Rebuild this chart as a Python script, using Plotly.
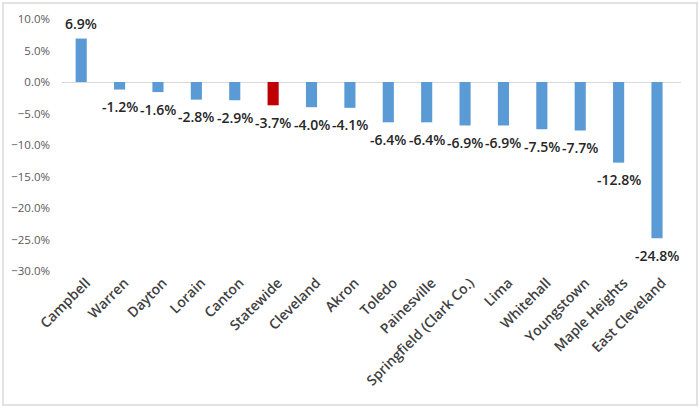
import plotly.graph_objects as go

cities = ["Campbell", "Warren", "Dayton", "Lorain", "Canton", "Statewide", "Cleveland",
          "Akron", "Toledo", "Painesville", "Springfield (Clark Co.)", "Lima", "Whitehall",
          "Youngstown", "Maple Heights", "East Cleveland"]
changes = [0.069, -0.012, -0.016, -0.028, -0.029, -0.037, -0.040, -0.041, -0.064, -0.064,
           -0.069, -0.069, -0.075, -0.077, -0.128, -0.248]
y_ticks = [0.10, 0.05, 0.0, -0.05, -0.10, -0.15, -0.20, -0.25, -0.30]

colors = ["#C00000" if c == "Statewide" else "#5B9BD5" for c in cities]
FONT = "Open Sans, Liberation Sans, sans-serif"

fig = go.Figure(go.Bar(
    x=cities, y=changes, marker_color=colors, marker_line_width=0,
    cliponaxis=False, hoverinfo="skip",
))

for c, v in zip(cities, changes):
    fig.add_annotation(x=c, y=v, text=f"{v*100:.1f}%", showarrow=False,
                       yanchor="middle", yshift=(15 if v >= 0 else -17),
                       font=dict(family=FONT, size=14, color="#262626", weight=600))

W, H = 700, 408
L, R, T, B = 62, 19, 19, 137
pw, ph = W - L - R, H - T - B

fig.update_layout(
    width=W, height=H, margin=dict(l=L, r=R, t=T, b=B, autoexpand=False),
    paper_bgcolor="white", plot_bgcolor="white", bargap=0.71, showlegend=False,
    font=dict(family=FONT),
    xaxis=dict(tickangle=-45, showgrid=False, showline=False, ticks="", automargin=False,
               ticklabelshift=5,
               tickfont=dict(size=14, color="#404040", family=FONT, weight=600)),
    yaxis=dict(range=[-0.30, 0.10], tickvals=y_ticks, tickformat=".1%", showgrid=False,
               zeroline=True, zerolinecolor="#D9D9D9", zerolinewidth=1, showline=False,
               automargin=False, ticklabelstandoff=11,
               tickfont=dict(size=11.5, color="#595959")),
    shapes=[dict(type="rect", xref="paper", yref="paper",
                 x0=-(L - 3) / pw, x1=1 + (R - 3) / pw,
                 y0=-(B - 3) / ph, y1=1 + (T - 3) / ph,
                 line=dict(color="#D9D9D9", width=1.5))],
)
fig.write_html("out.html", post_script="document.body.style.margin='0';",
               config={"displayModeBar": False})
